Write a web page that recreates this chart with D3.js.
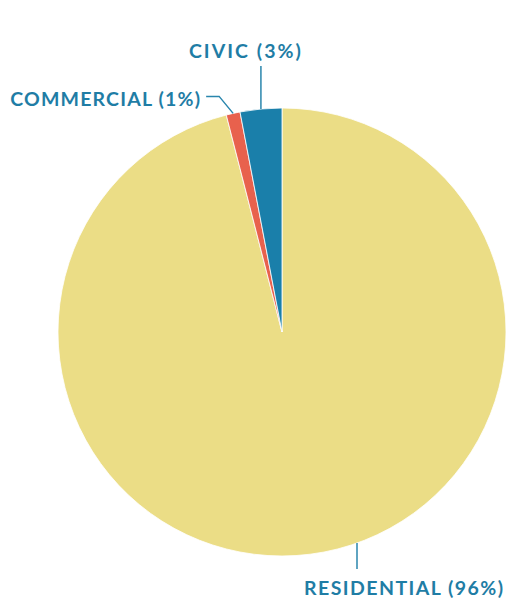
<!DOCTYPE html>
<html>
<head>
<meta charset="utf-8">
<script src="https://cdn.jsdelivr.net/npm/d3@7"></script>
<style>
  html, body { margin: 0; padding: 0; background: #fff; }
  svg { display: block; }
  .lbl { font-family: Lato, "Open Sans", sans-serif; font-weight: 700; fill: #1f7da5; }
</style>
</head>
<body>
<svg id="chart" width="509" height="598"></svg>
<script>
// Land use shares
const categories = ["RESIDENTIAL", "COMMERCIAL", "CIVIC"];
const shares = [96, 1, 3];
const colors = ["#ebdd86", "#e8614d", "#1a7faa"];

const width = 509, height = 598;
const cx = 282, cy = 332, radius = 224;

const svg = d3.select("#chart");
const g = svg.append("g").attr("transform", `translate(${cx},${cy})`);

const data = categories.map((c, i) => ({ name: c, value: shares[i], color: colors[i] }));

const pie = d3.pie().value(d => d.value).sort(null);
const arc = d3.arc().innerRadius(0).outerRadius(radius);
const arcs = pie(data);

g.selectAll("path.slice")
  .data(arcs)
  .join("path")
  .attr("class", "slice")
  .attr("d", arc)
  .attr("fill", d => d.data.color)
  .attr("stroke", "#fff")
  .attr("stroke-width", 0.8);

// point on the rim at a given angle (radians, clockwise from 12 o'clock)
const rim = (a, r = radius) => [r * Math.sin(a), -r * Math.cos(a)];
const mid = d => (d.startAngle + d.endAngle) / 2;

const lineColor = "#2a86ad";
const lbl = svg.append("g");

// CIVIC: straight vertical leader
{
  const d = arcs[2];
  const [x, y] = rim(mid(d));
  g.append("line")
    .attr("x1", x).attr("y1", y)
    .attr("x2", x).attr("y2", y - 43)
    .attr("stroke", lineColor).attr("stroke-width", 1.5);
  lbl.append("text").attr("class", "lbl")
    .attr("x", cx + x - 16).attr("y", cy + y - 51)
    .attr("text-anchor", "middle")
    .attr("font-size", 19.5)
    .attr("textLength", 112).attr("lengthAdjust", "spacing")
    .text(`${d.data.name} (${d.data.value}%)`);
}

// COMMERCIAL: elbow leader to the left
{
  const d = arcs[1];
  const [x, y] = rim(mid(d));
  const ex = x - 14, ey = y - 17;
  g.append("polyline")
    .attr("points", `${x},${y} ${ex},${ey} ${ex - 13},${ey}`)
    .attr("fill", "none")
    .attr("stroke", lineColor).attr("stroke-width", 1.5);
  lbl.append("text").attr("class", "lbl")
    .attr("x", cx + ex - 19).attr("y", cy + ey + 10)
    .attr("text-anchor", "end")
    .attr("font-size", 19.5)
    .attr("textLength", 190).attr("lengthAdjust", "spacing")
    .text(`${d.data.name} (${d.data.value}%)`);
}

// RESIDENTIAL: vertical leader below the pie
{
  const d = arcs[0];
  const a = Math.PI - Math.asin(75 / radius);
  const [x, y] = rim(a);
  g.append("line")
    .attr("x1", x).attr("y1", y)
    .attr("x2", x).attr("y2", y + 26)
    .attr("stroke", lineColor).attr("stroke-width", 1.5);
  lbl.append("text").attr("class", "lbl")
    .attr("x", cx + x - 53).attr("y", cy + y + 52)
    .attr("text-anchor", "start")
    .attr("font-size", 19.5)
    .attr("textLength", 199).attr("lengthAdjust", "spacing")
    .text(`${d.data.name} (${d.data.value}%)`);
}
</script>
</body>
</html>
